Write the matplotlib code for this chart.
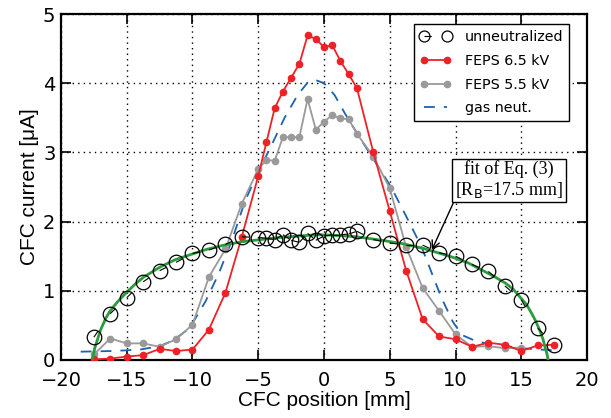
import matplotlib
matplotlib.use("Agg")
import matplotlib.pyplot as plt
from matplotlib.lines import Line2D

#__________________ data __________________
pos = [-17.5, -16.25, -15, -13.75, -12.5, -11.25, -10, -8.75, -7.5, -6.25, -5,
       -4.375, -3.75, -3.125, -2.5, -1.875, -1.25, -0.625, 0, 0.625, 1.25, 1.875, 2.5,
       3.75, 5, 6.25, 7.5, 8.75, 10, 11.25, 12.5, 13.75, 15, 16.25, 17.5]

unneut = [0.33, 0.67, 0.90, 1.13, 1.29, 1.41, 1.54, 1.59, 1.67, 1.78, 1.77,
          1.76, 1.74, 1.81, 1.73, 1.70, 1.83, 1.73, 1.79, 1.81, 1.81, 1.82, 1.86,
          1.74, 1.69, 1.66, 1.66, 1.55, 1.50, 1.38, 1.28, 1.07, 0.87, 0.46, 0.22]

feps65 = [0.01, 0.02, 0.05, 0.07, 0.16, 0.13, 0.15, 0.44, 0.97, 1.78, 2.66,
          3.15, 3.64, 3.88, 4.08, 4.28, 4.69, 4.64, 4.52, 4.55, 4.32, 4.13, 3.93,
          3.00, 2.15, 1.29, 0.59, 0.34, 0.30, 0.19, 0.25, 0.22, 0.13, 0.21, 0.22]

# 5.5 kV scan stops at 15 mm
feps55 = [0.08, 0.31, 0.24, 0.24, 0.19, 0.30, 0.51, 1.20, 1.60, 2.26, 2.76,
          2.89, 2.88, 3.22, 3.22, 3.22, 3.77, 3.33, 3.44, 3.54, 3.49, 3.48, 3.27,
          2.94, 2.48, 1.63, 1.04, 0.71, 0.37, 0.19, 0.20, 0.17, 0.18]

gas_x = [-18.5, -16, -14, -12.5, -11.5, -10.5, -10, -9, -8, -7, -6, -5, -4, -3, -2,
         -1.2, -0.7, 0, 0.8, 1.6, 2.6, 3.8, 5.1, 6.4, 7.4, 7.9, 8.9, 9.8, 10.5, 11.7,
         13.2, 15, 16.5, 17.5]
gas_y = [0.12, 0.13, 0.15, 0.20, 0.28, 0.42, 0.53, 0.85, 1.25, 1.73, 2.30, 2.72, 3.10,
         3.50, 3.83, 4.02, 4.05, 4.00, 3.83, 3.56, 3.25, 2.89, 2.50, 2.02, 1.64, 1.40,
         0.91, 0.55, 0.36, 0.26, 0.22, 0.17, 0.15, 0.14]

fit_x = [-17.6, -17.45, -17.3, -17.0, -16.6, -16.3, -15.7, -15.1, -14.4, -13.7, -12.4,
         -11.3, -10.2, -8.9, -7.6, -6.2, -4.8, -3.4, -2, -0.5, 1, 2.5, 4.4, 6, 7.6, 9.7,
         11, 12, 13, 13.8, 14.4, 14.9, 15.4, 15.8, 16.1, 16.4, 16.65, 16.8, 16.95, 17.05]
fit_y = [0.0, 0.16, 0.25, 0.43, 0.60, 0.70, 0.84, 0.96, 1.09, 1.20, 1.35,
         1.45, 1.52, 1.60, 1.66, 1.71, 1.74, 1.77, 1.79, 1.81, 1.80, 1.78, 1.73, 1.68, 1.61, 1.49,
         1.40, 1.30, 1.20, 1.11, 1.02, 0.91, 0.80, 0.67, 0.56, 0.43, 0.30, 0.19, 0.09, 0.0]

#__________________ figure __________________
fig = plt.figure(figsize=(6.11, 4.18), dpi=100)
ax = fig.add_axes([0.0998, 0.1388, 0.861, 0.8277])

RED = "#ec2227"
GREY = "#9a9a9a"
BLUE = "#1c62ad"
GREEN = "#2b9b3c"
MS = 10.5

ax.plot(gas_x, gas_y, color=BLUE, lw=1.3, dashes=(6, 5), zorder=3)
ax.plot(pos[:len(feps55)], feps55, color=GREY, lw=1.3, marker="o", ms=4.5, zorder=4)
ax.plot(pos, feps65, color=RED, lw=1.3, marker="o", ms=4.5, zorder=5)
ax.plot(fit_x, fit_y, color=GREEN, lw=2.0, zorder=6)

# open circles, joined by a short dash from each point toward the next
unneut_dash = (MS / 2 / 0.8, 1000)
for i in range(len(pos) - 1):
    ax.plot(pos[i:i + 2], unneut[i:i + 2], color="k", lw=0.8, dashes=unneut_dash, zorder=7)
ax.plot(pos, unneut, ls="none", marker="o", ms=MS, mfc="none", mec="k", mew=0.9, zorder=7)

ax.set_xlim(-20, 20)
ax.set_ylim(0, 5)
ax.set_xticks([-20, -15, -10, -5, 0, 5, 10, 15, 20])
ax.set_yticks([0, 1, 2, 3, 4, 5])
ax.tick_params(direction="in", length=7, width=1.2, top=True, right=True,
               labelsize=14)
ax.tick_params(axis="x", pad=8)
ax.tick_params(axis="y", pad=4)
for s in ax.spines.values():
    s.set_linewidth(1.6)
ax.grid(True, color="k", lw=1.0, linestyle=(0, (1, 3)))
ax.set_axisbelow(True)

ax.set_xlabel("CFC position [mm]", family="Liberation Sans", fontsize=15, labelpad=1)
ax.set_ylabel("CFC current [μA]", family="Liberation Sans", fontsize=15, labelpad=3)

#------------- legend -------------
h_unneut = Line2D([], [], color="k", lw=0.8, dashes=unneut_dash, marker="o", ms=MS * 0.75,
                  mfc="none", mec="k", mew=0.9)
h65 = Line2D([], [], color=RED, lw=1.3, marker="o", ms=4.5)
h55 = Line2D([], [], color=GREY, lw=1.3, marker="o", ms=4.5)
hgas = Line2D([], [], color=BLUE, lw=1.3, dashes=(6, 5))
leg = ax.legend([h_unneut, h65, h55, hgas],
                ["unneutralized", "FEPS 6.5 kV", "FEPS 5.5 kV", "gas neut."],
                loc="upper right", bbox_to_anchor=(0.972, 0.978), fontsize=10.3,
                numpoints=2, handlelength=2.2, handletextpad=1.0, labelspacing=0.68,
                borderpad=0.4, borderaxespad=0.2, fancybox=False, framealpha=1,
                edgecolor="k")
leg.get_frame().set_linewidth(1.0)

#------------- fit annotation -------------
ax.annotate("fit of Eq. (3)\n[R$_\\mathrm{B}$=17.5 mm]", xy=(8.2, 1.59), xytext=(14.05, 2.6),
            ha="center", va="center", family="Liberation Serif", fontsize=13,
            linespacing=1.1,
            bbox=dict(boxstyle="square,pad=0.15", fc="white", ec="k", lw=1.0),
            arrowprops=dict(arrowstyle="->", color="k", lw=1.0, relpos=(0, 0),
                            shrinkA=0, shrinkB=0, mutation_scale=14),
            zorder=10)

fig.savefig("out.png", dpi=100)
